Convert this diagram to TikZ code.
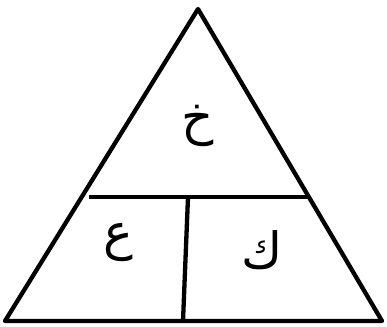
\documentclass[tikz,border=0pt]{standalone}
\usepackage{fontspec}
\newfontfamily\arabicfont[Script=Arabic]{DejaVu Sans}
\TeXXeTstate=1
\begin{document}
\begin{tikzpicture}[x=1pt,y=-1pt,
  edge/.style={line width=4.3pt, line join=round},
  letter/.style={font=\arabicfont\fontsize{50}{60}\selectfont, inner sep=0pt}]
\useasboundingbox (0,0) rectangle (387,326);
\coordinate (apex) at (198,9);
\coordinate (bl) at (5,321);
\coordinate (br) at (382,321);
\coordinate (hl) at (89,197);
\coordinate (hr) at (310,197);
\coordinate (vt) at (188,197);
\coordinate (vb) at (183,321);
\draw[edge] (apex) -- (br) -- (bl) -- cycle;
\draw[edge] (hl) -- (hr);
\draw[edge] (vt) -- (vb);
\node[letter] (kh) at (198,126) {\beginR خ\endR};
\node[letter] (ain) at (118,243) {\beginR ع\endR};
\node[letter] (kaf) at (262,250) {\beginR ك\endR};
\end{tikzpicture}
\end{document}
